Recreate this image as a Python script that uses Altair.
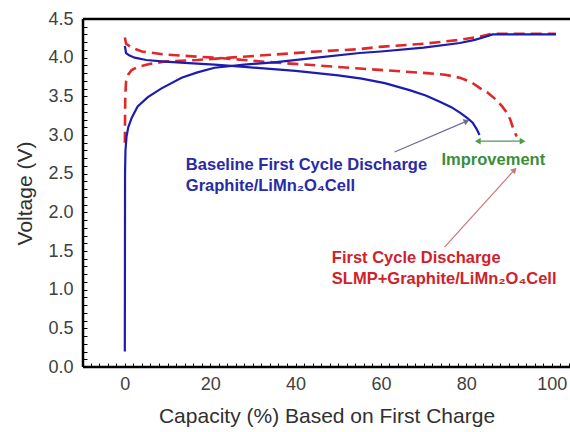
import altair as alt
import pandas as pd

# ---- data ----
blue_charge_cap = [0, 0.05, 0.15, 0.4, 0.8, 1.6, 3, 5.4, 8.5, 13.3, 17, 21, 28, 35, 45, 55, 60, 70, 78.5, 82, 84.5, 86.2, 101]
blue_charge_v = [0.2, 2.5, 2.8, 2.98, 3.1, 3.22, 3.37, 3.49, 3.6, 3.74, 3.81, 3.87, 3.91, 3.94, 4.0, 4.06, 4.08, 4.13, 4.19, 4.23, 4.27, 4.3, 4.3]

blue_dis_cap = [0, 0.3, 1, 2.3, 5, 9.4, 15, 21, 28, 40, 50, 55.5, 60.9, 66.7, 70.5, 73.8, 76.5, 78.5, 80.2, 81.5, 82.4, 83.1]
blue_dis_v = [4.15, 4.06, 4.03, 4.0, 3.97, 3.95, 3.93, 3.91, 3.88, 3.83, 3.77, 3.73, 3.67, 3.58, 3.51, 3.43, 3.36, 3.29, 3.22, 3.16, 3.08, 3.0]

red_charge_cap = [0, 0.1, 0.3, 0.8, 1.6, 3, 6, 9.4, 17, 24.6, 35, 45, 55, 59.7, 70, 78.5, 83, 86.2, 101]
red_charge_v = [2.9, 3.5, 3.7, 3.78, 3.84, 3.88, 3.92, 3.95, 3.97, 4.0, 4.04, 4.08, 4.11, 4.14, 4.18, 4.23, 4.27, 4.31, 4.31]

red_dis_cap = [0, 0.3, 1.6, 4, 9.4, 15, 21, 28, 32, 45, 55, 62.8, 70.7, 75, 78.5, 81, 83.1, 85.2, 87.1, 88.4, 89.5, 90.3, 90.9, 91.8]
red_dis_v = [4.26, 4.18, 4.13, 4.08, 4.04, 4.02, 4.0, 3.97, 3.95, 3.9, 3.86, 3.83, 3.8, 3.78, 3.74, 3.69, 3.61, 3.54, 3.45, 3.37, 3.29, 3.2, 3.1, 2.98]

y_ticks = [round(i * 0.1, 1) for i in range(46)]
x_ticks = list(range(-8, 105, 2))

# annotations
blue_text = ["Baseline First Cycle Discharge", "Graphite/LiMn\u2082O\u2084Cell"]
red_text = ["First Cycle Discharge", "SLMP+Graphite/LiMn\u2082O\u2084Cell"]
green_text = ["Improvement"]

FONT = "Liberation Sans"
BLUE = "#1c1cb0"
RED = "#e02828"

def rows(cap, v, part):
    return [{"cap": c, "V": y, "part": part, "idx": i} for i, (c, y) in enumerate(zip(cap, v))]

df_blue = pd.DataFrame(rows(blue_charge_cap, blue_charge_v, "charge") + rows(blue_dis_cap, blue_dis_v, "discharge"))
df_red = pd.DataFrame(rows(red_charge_cap, red_charge_v, "charge") + rows(red_dis_cap, red_dis_v, "discharge"))

xs = alt.Scale(domain=[-9.8, 104.3], nice=False, zero=False)
ys = alt.Scale(domain=[0, 4.5], nice=False, zero=False)

xax = alt.Axis(values=x_ticks, labelExpr="datum.value >= 0 && datum.value % 20 == 0 ? datum.value : ''",
               grid=False, domain=False, tickSize=4, offset=-4, tickColor="black", tickWidth=1,
               labelPadding=8, labelFontSize=18, labelFont=FONT, labelColor="#404040", labelOverlap=False,
               labelFlush=False,
               title="Capacity (%) Based on First Charge", titleFontSize=21, titleFont=FONT,
               titleFontWeight="normal", titleColor="#303030", titlePadding=12)
yax = alt.Axis(values=y_ticks, labelExpr="round(datum.value*10) % 5 == 0 ? format(datum.value, '.1f') : ''",
               grid=False, domain=False, tickSize=4, offset=-4, tickColor="black", tickWidth=1,
               labelPadding=10, labelFontSize=18, labelFont=FONT, labelColor="#404040", labelOverlap=False,
               title="Voltage (V)", titleFontSize=21, titleFont=FONT,
               titleFontWeight="normal", titleColor="#303030", titlePadding=12)

def X(f):
    return alt.X(f, type="quantitative", scale=xs, axis=xax)

def Y(f):
    return alt.Y(f, type="quantitative", scale=ys, axis=yax)

blue = alt.Chart(df_blue).mark_line(color=BLUE, strokeWidth=2.2).encode(
    x=X("cap"), y=Y("V"), detail="part:N", order="idx:Q")
red = alt.Chart(df_red).mark_line(color=RED, strokeWidth=2.6, strokeDash=[11, 6]).encode(
    x=X("cap"), y=Y("V"), detail="part:N", order="idx:Q")

# frame
frame_h = pd.DataFrame({"V": [0, 4.5]})
frame_v = pd.DataFrame({"cap": [-9.8]})
hrules = alt.Chart(frame_h).mark_rule(color="black", strokeWidth=2.5).encode(y=Y("V"))
vrule = alt.Chart(frame_v).mark_rule(color="black", strokeWidth=2.5).encode(x=X("cap"))

# arrows
arrows = pd.DataFrame({
    "cap": [63.2, 74.9, 82.7],
    "V": [2.78, 1.55, 2.92],
    "cap2": [80.1, 91.3, 93.2],
    "V2": [3.18, 2.55, 2.92],
    "col": ["#6e6e8e", "#c87a7a", "#4c9c4c"],
})
heads = pd.DataFrame({
    "cap": [80.1, 91.3, 93.2, 82.7],
    "V": [3.18, 2.55, 2.92, 2.92],
    "ang": [336.7, 312.3, 0, 180],
    "col": ["#6e6e8e", "#c87a7a", "#4c9c4c", "#4c9c4c"],
})
arrow_lines = alt.Chart(arrows).mark_rule(strokeWidth=1.2).encode(
    x=X("cap"), y=Y("V"), x2="cap2", y2="V2", color=alt.Color("col:N", scale=None))
arrow_heads = alt.Chart(heads).mark_point(shape="triangle-right", filled=True, size=45, opacity=1).encode(
    x=X("cap"), y=Y("V"), angle=alt.Angle("ang:Q", scale=None), color=alt.Color("col:N", scale=None))

labels = pd.DataFrame({
    "cap": [14.3, 14.3, 74.2, 48.5, 48.5],
    "V": [2.61, 2.34, 2.68, 1.41, 1.14],
    "txt": blue_text + green_text + red_text,
    "col": ["#2a2aa6", "#2a2aa6", "#3a8e3a", "#d0222a", "#d0222a"],
})
texts = alt.Chart(labels).mark_text(align="left", baseline="middle", font=FONT, fontWeight="bold",
                                    fontSize=16.5).encode(
    x=X("cap"), y=Y("V"), text="txt:N", color=alt.Color("col:N", scale=None))

chart = alt.layer(hrules, vrule, red, blue, arrow_lines, arrow_heads, texts).properties(
    width=487, height=348,
    autosize=alt.AutoSizeParams(type="none"),
    padding={"left": 83, "top": 19, "right": 0, "bottom": 65},
).configure_view(stroke=None).configure(background="white")

chart.save("out.html", embed_options={"renderer": "svg", "actions": False})
